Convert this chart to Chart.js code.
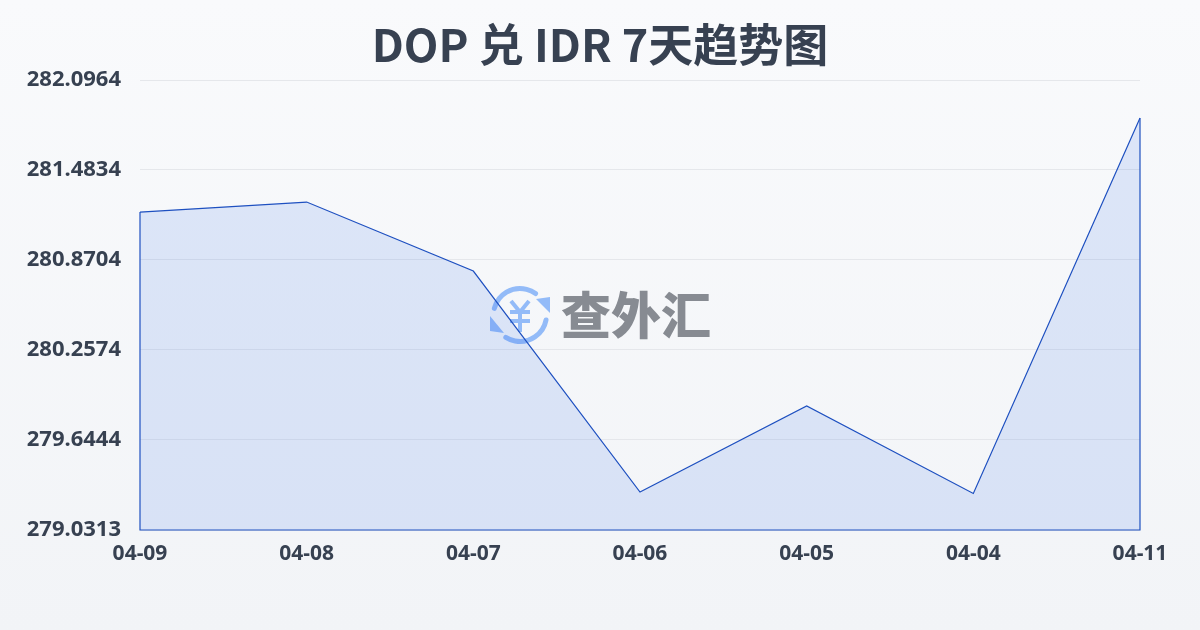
<!DOCTYPE html>
<html>
<head>
<meta charset="utf-8">
<script src="https://cdn.jsdelivr.net/npm/chart.js@4/dist/chart.umd.min.js"></script>
<style>
  html, body { margin: 0; padding: 0; }
  body { width: 1200px; height: 630px; overflow: hidden; background: linear-gradient(180deg, #f9fafc 0%, #f2f4f7 100%); }
  canvas { display: block; }
</style>
</head>
<body>
<canvas id="rate-chart" width="1200" height="630"></canvas>
<script>
var titleText = 'DOP 兑 IDR 7天趋势图';
var dates = ['04-09', '04-08', '04-07', '04-06', '04-05', '04-04', '04-11'];
var rates = [281.197, 281.265, 280.795, 279.290, 279.876, 279.280, 281.838];
var yTicks = [279.0313, 279.6444, 280.2574, 280.8704, 281.4834, 282.0964];

var textColor = '#374151';
var lineColor = '#1e50c0';
var lineWidth = 1.2;

// watermark sits under the line, same as the reference
var watermark = {
  id: 'watermark',
  beforeDatasetsDraw: function(chart) {
    var ctx = chart.ctx;
    ctx.save();
    ctx.strokeStyle = '#93bbf8';
    ctx.fillStyle = '#93bbf8';
    ctx.lineWidth = 5;
    ctx.lineCap = 'round';
    ctx.beginPath();
    ctx.arc(520, 315, 26.5, Math.PI * 1.08, Math.PI * 1.70);
    ctx.stroke();
    ctx.beginPath();
    ctx.arc(520, 315, 26.5, Math.PI * 0.06, Math.PI * 0.68);
    ctx.stroke();
    ctx.beginPath();
    ctx.moveTo(550, 313); ctx.lineTo(536, 299); ctx.lineTo(550, 297);
    ctx.closePath();
    ctx.fill();
    ctx.beginPath();
    ctx.moveTo(490, 316); ctx.lineTo(490, 331); ctx.lineTo(504, 333);
    ctx.closePath();
    ctx.fill();
    // yen sign of the logo
    ctx.lineWidth = 4;
    ctx.lineCap = 'butt';
    ctx.beginPath();
    ctx.moveTo(511, 301); ctx.lineTo(520, 312); ctx.lineTo(529, 301);
    ctx.moveTo(520, 312); ctx.lineTo(520, 332);
    ctx.moveTo(510, 312); ctx.lineTo(530, 312);
    ctx.moveTo(510, 321); ctx.lineTo(530, 321);
    ctx.stroke();
    ctx.fillStyle = '#878b92';
    ctx.textAlign = 'left';
    ctx.textBaseline = 'middle';
    ctx.font = '900 50px "Noto Sans CJK SC"';
    ctx.fillText('查外汇', 561, 315);
    ctx.restore();
  }
};

// the series outline is closed down to the baseline
var closedOutline = {
  id: 'closedOutline',
  afterDatasetsDraw: function(chart) {
    var pts = chart.getDatasetMeta(0).data;
    var first = pts[0];
    var last = pts[pts.length - 1];
    var base = chart.scales.y.bottom;
    var ctx = chart.ctx;
    ctx.save();
    ctx.strokeStyle = lineColor;
    ctx.lineWidth = lineWidth;
    ctx.beginPath();
    ctx.moveTo(first.x, first.y);
    ctx.lineTo(first.x, base);
    ctx.lineTo(last.x, base);
    ctx.lineTo(last.x, last.y);
    ctx.stroke();
    ctx.restore();
  }
};

new Chart(document.getElementById('rate-chart'), {
  type: 'line',
  data: {
    labels: dates,
    datasets: [{
      data: rates,
      borderColor: lineColor,
      borderWidth: lineWidth,
      backgroundColor: 'rgba(37, 99, 235, 0.13)',
      fill: 'start',
      tension: 0,
      pointRadius: 0
    }]
  },
  plugins: [watermark, closedOutline],
  options: {
    responsive: false,
    animation: false,
    plugins: {
      legend: { display: false },
      tooltip: { enabled: false },
      title: {
        display: true,
        text: titleText,
        color: textColor,
        font: { family: '"Noto Sans CJK SC", "Noto Sans"', size: 45, weight: 'bold' },
        padding: { top: 18, bottom: 8 }
      }
    },
    scales: {
      x: {
        offset: false,
        grid: { display: false },
        border: { display: false },
        afterFit: function(scale) { scale.height = 100; },
        ticks: {
          color: textColor,
          maxRotation: 0,
          padding: 3,
          font: { family: '"Noto Sans"', size: 21, weight: 'bold' }
        }
      },
      y: {
        min: yTicks[0],
        max: yTicks[yTicks.length - 1],
        afterBuildTicks: function(scale) {
          scale.ticks = yTicks.map(function(v) { return { value: v }; });
        },
        afterFit: function(scale) { scale.width = 140; },
        grid: { color: '#e5e7eb', lineWidth: 1, drawTicks: false },
        border: { display: false },
        ticks: {
          color: textColor,
          padding: 19,
          callback: function(v) { return v.toFixed(4); },
          font: { family: '"Noto Sans"', size: 22, weight: 'bold' }
        }
      },
      // empty axis, only holds the right margin so the title stays page-centred
      yMargin: {
        position: 'right',
        grid: { display: false },
        border: { display: false },
        ticks: { display: false },
        afterFit: function(scale) { scale.width = 60; }
      }
    }
  }
});
</script>
</body>
</html>
